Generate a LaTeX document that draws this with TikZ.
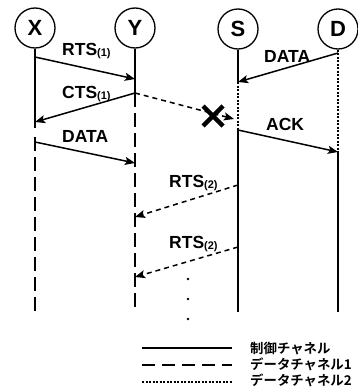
\documentclass[tikz,border=0pt]{standalone}
\usepackage{fontspec}
\setmainfont{Liberation Sans}
\newfontfamily\jpfont{Noto Sans CJK JP}[BoldFont={Noto Sans CJK JP Bold}]
\usetikzlibrary{arrows.meta}
\begin{document}
\begin{tikzpicture}[x=1pt,y=-1pt,
  ent/.style={circle,draw,line width=1.3pt,minimum size=40pt,inner sep=0pt,
    font=\fontsize{22}{22}\selectfont\bfseries},
  ctrl/.style={line width=2pt},
  dataone/.style={line width=2pt,dash pattern=on 14pt off 6pt},
  datatwo/.style={line width=2.2pt,dash pattern=on 2pt off 1.5pt},
  msg/.style={line width=1.5pt,-{Stealth[length=10pt,width=8pt,inset=2pt]}},
  dmsg/.style={msg,dash pattern=on 5pt off 4pt},
  lbl/.style={font=\fontsize{17.5}{18}\selectfont\bfseries,inner sep=0pt,anchor=base west},
  leg/.style={font=\jpfont\bfseries\fontsize{13.4}{14}\selectfont,anchor=west,inner sep=0pt}
]
\useasboundingbox (0,0) rectangle (357,388);
\newcommand{\sbx}[1]{\raisebox{-1pt}{\fontsize{11}{11}\selectfont(#1)}}

% stations
\node[ent] (X) at (35,28) {X};
\node[ent] (Y) at (135,28) {Y};
\node[ent] (S) at (238,29) {S};
\node[ent] (D) at (338,29) {D};

% event points on the lifelines
\coordinate (x1) at (35,57);
\coordinate (x2) at (35,122);
\coordinate (xc) at (35,128);
\coordinate (xd) at (35,137);
\coordinate (x3) at (35,142);
\coordinate (xb) at (35,312);
\coordinate (y1) at (135,79);
\coordinate (y2) at (135,93);
\coordinate (y3) at (135,163);
\coordinate (y4) at (135,217);
\coordinate (y5) at (135,277);
\coordinate (yb) at (135,310);
\coordinate (s1) at (238,82);
\coordinate (s2) at (238,130);
\coordinate (s3) at (238,185);
\coordinate (s4) at (238,247);
\coordinate (sb) at (238,312);
\coordinate (d1) at (338,53);
\coordinate (d2) at (338,152);
\coordinate (db) at (338,312);
\coordinate (lost) at (234,119);

% lifelines
\draw[ctrl] (X.south) -- (xc);
\draw[dataone] (xd) -- (xb);
\draw[ctrl] (Y.south) -- (y2);
\draw[dataone] (y2) -- (yb);
\draw[ctrl] (S.south) -- (s1);
\draw[datatwo] (s1) -- (s2);
\draw[ctrl] (s2) -- (sb);
\draw[datatwo] (D.south) -- (d2);
\draw[ctrl] (d2) -- (db);

% messages
\draw[msg] (x1) -- (y1);
\draw[msg] (y2) -- (x2);
\draw[msg] (x3) -- (y3);
\draw[dmsg] (y2) -- (lost);
\draw[msg] (d1) -- (s1);
\draw[msg] (s2) -- (d2);
\draw[dmsg] (s3) -- (y4);
\draw[dmsg] (s4) -- (y5);

% collision mark
\draw[line width=4.5pt] (203,106) -- (223,126) (203,126) -- (223,106);

% labels
\node[lbl] (l1) at (62,55) {RTS\sbx{1}};
\node[lbl] (l2) at (62,98) {CTS\sbx{1}};
\node[lbl] (l3) at (62,142) {DATA};
\node[lbl] (l4) at (264,62) {DATA};
\node[lbl] (l5) at (266,130) {ACK};
\node[lbl] (l6) at (169,187) {RTS\sbx{2}};
\node[lbl] (l7) at (169,248) {RTS\sbx{2}};

% continuation dots
\foreach \yy in {279,299,319} \fill (188,\yy) circle (1.3pt);

% legend
\draw[ctrl] (142,348) -- (232,348);
\draw[dataone,dash pattern=on 13pt off 7pt] (142,365) -- (232,365);
\draw[datatwo] (142,382) -- (232,382);
\node[leg] (g1) at (250,348) {制御チャネル};
\node[leg] (g2) at (250,364) {データチャネル1};
\node[leg] (g3) at (250,380) {データチャネル2};
\end{tikzpicture}
\end{document}
